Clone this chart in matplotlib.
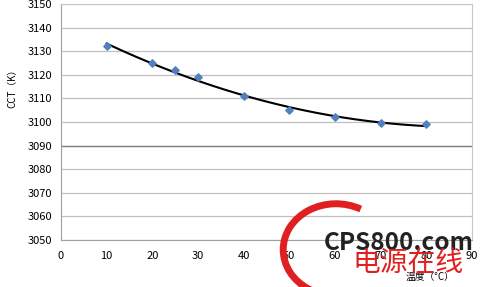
import numpy as np
import matplotlib.pyplot as plt
from matplotlib.patches import Arc

plt.rcParams['font.family'] = ['Noto Sans CJK SC', 'DejaVu Sans']

temps = [10, 20, 25, 30, 40, 50, 60, 70, 80]
cct = [3132, 3125, 3122, 3119, 3111, 3105, 3102, 3099.5, 3099]
yticks = list(range(3050, 3151, 10))
xticks = list(range(0, 91, 10))

fig = plt.figure(figsize=(4.8, 2.87), dpi=100)
ax = fig.add_axes([0.127, 0.164, 0.856, 0.822])

# 2nd order polynomial trend line
coef = np.polyfit(temps, cct, 2)
xs = np.linspace(min(temps), max(temps), 200)
ax.plot(xs, np.polyval(coef, xs), color='black', lw=1.5, zorder=3)
ax.scatter(temps, cct, marker='D', s=14, color='#4f81bd', zorder=4)

ax.set_xlim(0, 90)
ax.set_ylim(3050, 3150)
ax.set_xticks(xticks)
ax.set_yticks(yticks)
ax.grid(axis='y', color='#c0c0c0', lw=0.9)
ax.axhline(3090, color='#808080', lw=1.0)
for s in ['top', 'right']:
    ax.spines[s].set_color('#c8c8c8')
for s in ['left', 'bottom']:
    ax.spines[s].set_color('#a0a0a0')
ax.tick_params(length=0, labelsize=8, pad=6)
ax.tick_params(axis='x', pad=8)
ax.set_axisbelow(True)

fig.text(0.025, 0.70, 'CCT（K）', rotation=90, fontsize=7, ha='center', va='center')
fig.text(0.896, 0.035, '温度（°C）', fontsize=7, ha='center', va='center')

# watermark
arc = Arc((0.70, 0.13), 0.22, 0.32, theta1=70, theta2=290, transform=fig.transFigure,
          color='#e02020', lw=5, zorder=5)
fig.add_artist(arc)
fig.text(0.83, 0.155, 'CPS800.com', fontsize=17.5, fontweight='bold', style='italic',
         color='#222222', ha='center', va='center', zorder=6)
fig.text(0.85, 0.085, '电源在线', fontsize=20, style='italic', color='#e02020',
         ha='center', va='center', zorder=6)

fig.savefig('out.png', dpi=100)
